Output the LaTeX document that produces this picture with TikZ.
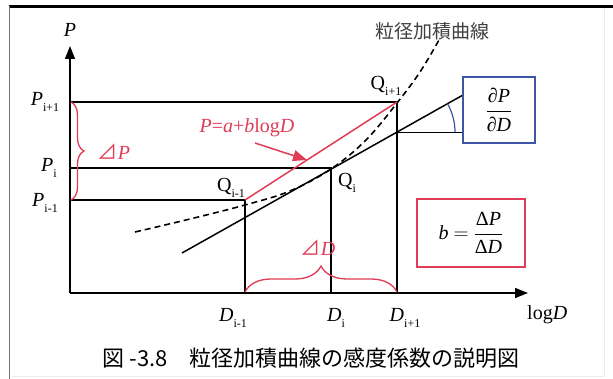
\documentclass[tikz,border=0pt]{standalone}
\usepackage{fontspec}
\usepackage{amsmath}
\setmainfont{Liberation Serif}
\newfontfamily\cjk{Noto Sans CJK JP}
\usetikzlibrary{arrows.meta,decorations.pathreplacing}
\definecolor{redl}{RGB}{225,60,85}
\definecolor{bluel}{RGB}{60,85,165}
\newcommand{\sbs}[1]{\raisebox{-0.28em}{\fontsize{12}{12}\selectfont #1}}
\tikzset{
  lab/.style={font=\fontsize{20}{22}\selectfont, inner sep=0pt},
  axis/.style={line width=1.5pt, -{Triangle[length=13pt,width=10pt]}},
  guide/.style={line width=1.5pt},
  redline/.style={redl, line width=1.5pt},
  bracestyle/.style={redl, line width=1.3pt, decorate},
  boxstyle/.style={line width=1.4pt, inner sep=0pt, font=\fontsize{20}{22}\selectfont}
}
\begin{document}
\begin{tikzpicture}[x=1pt,y=-1pt]
\useasboundingbox (0,0) rectangle (613,379);
\fill[white] (0,0) rectangle (613,379);
% frame
\draw[line width=2.5pt] (9,6.5) -- (613,6.5);
\draw[black!55, line width=1.2pt] (9.5,6.5) -- (9.5,379);
\draw[black!8, line width=0.8pt] (604,9) -- (604,376) -- (12,376);
% axes
\coordinate (O) at (70,293);
\coordinate (Ytip) at (70,46);
\coordinate (Xtip) at (528,293);
\draw[axis] (O) -- (Ytip);
\draw[axis] (O) -- (Xtip);
\node[lab] (Plab) at (70,30) {\textit{P}};
\node[lab, anchor=west] (logD) at (527,315) {log\textit{D}};
% points
\coordinate (Qm) at (245,200);
\coordinate (Q0) at (331,168);
\coordinate (Qp) at (397,102);
\coordinate (Pm) at (70,200);
\coordinate (P0) at (70,168);
\coordinate (Pp) at (70,102);
\coordinate (Dm) at (245,293);
\coordinate (D0) at (331,293);
\coordinate (Dp) at (397,293);
\draw[guide] (Pp) -- (Qp) -- (Dp);
\draw[guide] (P0) -- (Q0) -- (D0);
\draw[guide] (Pm) -- (Qm) -- (Dm);
% labels on axes
\node[lab] (lPp) at (45,102) {\textit{P}\sbs{i+1}};
\node[lab] (lP0) at (49,168) {\textit{P}\sbs{i}};
\node[lab] (lPm) at (45,203) {\textit{P}\sbs{i-1}};
\node[lab] (lDm) at (233,318) {\textit{D}\sbs{i-1}};
\node[lab] (lD0) at (336,318) {\textit{D}\sbs{i}};
\node[lab] (lDp) at (405,318) {\textit{D}\sbs{i+1}};
% Q labels
\node[lab] (lQp) at (386,86) {Q\sbs{i+1}};
\node[lab] (lQ0) at (347,183) {Q\sbs{i}};
\node[lab] (lQm) at (231,188) {Q\sbs{i-1}};
% tangent line
\coordinate (T1) at (182,253);
\coordinate (T2) at (463,95);
\draw[line width=1.5pt] (T1) -- (T2);
\coordinate (H) at (397,132.2);
\coordinate (H2) at (462,132.2);
\draw[line width=1.3pt] (H) -- (H2);
\draw[bluel, line width=1.2pt] ([xshift=58pt]H) arc[start angle=0, end angle=-29.4, radius=58];
% dashed curve
\draw[line width=1.6pt, dash pattern=on 6pt off 4pt] plot[smooth, tension=0.6] coordinates {(135,232) (190,219) (245,205) (290,191) (331,169) (366,140) (397,103) (420,72) (439,40)};
% red line and arrow
\draw[redline] (Qm) -- (Qp);
\coordinate (As) at (255,143);
\coordinate (At) at (307,160);
\draw[redline, -{Triangle[length=14pt,width=11pt]}] (As) -- (At);
\node[lab, text=redl] (eq) at (247,128) {\textit{P}=\textit{a}+\textit{b}log\textit{D}};
% braces
\draw[bracestyle, decoration={brace, amplitude=13pt}] (71,102) -- (71,200);
\node[lab, text=redl] (dP) at (114,152) {{\cjk ⊿}\textit{P}};
\draw[bracestyle, decoration={brace, amplitude=26pt}] (245,292) -- (397,292);
\node[lab, text=redl] (dD) at (318,248) {{\cjk ⊿}\textit{D}};
% boxes
\node[boxstyle, draw=bluel, minimum width=72pt, minimum height=66pt] (bbox) at (499,110)
  {$\dfrac{\textit{∂P}}{\textit{∂D}}$};
\node[boxstyle, draw=redl, minimum width=108pt, minimum height=68pt] (rbox) at (471,233)
  {\textit{b} $=$ $\dfrac{\text{Δ\textit{P}}}{\text{Δ\textit{D}}}$};
% curve label & caption
\node[font=\cjk\fontsize{19}{20}\selectfont, text=black!75, inner sep=0pt] (clab) at (432,31) {粒径加積曲線};
\node[font=\cjk\fontsize{22}{24}\selectfont, inner sep=0pt] (cap) at (311,358) {図 -3.8　粒径加積曲線の感度係数の説明図};
\end{tikzpicture}
\end{document}
